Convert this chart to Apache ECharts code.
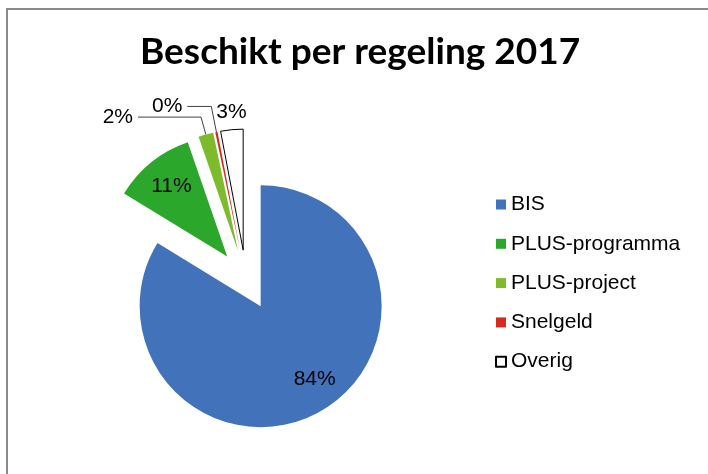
<!DOCTYPE html>
<html>
<head>
<meta charset="utf-8">
<script src="https://cdn.jsdelivr.net/npm/echarts@6/dist/echarts.min.js"></script>
<style>
  html, body { margin: 0; padding: 0; background: #fff; }
  #chart { width: 708px; height: 474px; }
</style>
</head>
<body>
<div id="chart"></div>
<script>
    // data
    var categories = ['BIS', 'PLUS-programma', 'PLUS-project', 'Snelgeld', 'Overig'];
    var values = [84, 11, 2, 0.3, 3];
    var colors = ['#4273ba', '#2ba82c', '#7dbb2d', '#d42b20', '#ffffff'];

    // label nudges (inside labels sit further out in the source chart)
    var labelNudge = [[23, 18], [-16, -21], [0, 0], [0, 0], [21, -6]];
    var lineLen = [
        null, null,
        { length: 18, length2: 63 },
        { length: 26, length2: 24 },
        { length: 12, length2: 0 }
    ];

    function buildData() {
        return categories.map(function(name, idx) {
            var item = {
                name: name,
                value: values[idx],
                selected: true,
                itemStyle: {
                    color: colors[idx],
                    borderColor: idx === 4 ? '#000' : colors[idx],
                    borderWidth: idx === 4 ? 1 : 0
                }
            };
            if (idx < 2) {
                item.label = { position: 'inside' };
            } else {
                item.label = { position: 'outside' };
                item.labelLine = {
                    show: idx !== 4,
                    length: lineLen[idx].length,
                    length2: lineLen[idx].length2
                };
            }
            return item;
        });
    }

    var chart = echarts.init(document.getElementById('chart'), null, { renderer: 'canvas' });

    var option = {
        backgroundColor: '#fff',
        animation: false,
        title: {
            text: 'Beschikt per regeling 2017',
            left: 140,
            top: 34,
            padding: 0,
            textStyle: {
                fontFamily: 'Lato',
                fontWeight: 'bold',
                fontSize: 37,
                color: '#000'
            }
        },
        legend: {
            orient: 'vertical',
            left: 490,
            top: 189,
            icon: 'rect',
            itemWidth: 10,
            itemHeight: 10,
            itemGap: 18.3,
            selectedMode: false,
            data: categories,
            textStyle: {
                fontFamily: 'Liberation Sans',
                fontSize: 21,
                lineHeight: 20,
                color: '#000'
            }
        },
        graphic: [{
            type: 'rect',
            shape: { x: 7, y: 9, width: 760, height: 520 },
            style: { fill: null, stroke: '#8a8a8a', lineWidth: 2 },
            silent: true
        }],
        series: [{
            type: 'pie',
            center: [246, 280],
            radius: 121,
            startAngle: 90,
            clockwise: true,
            selectedMode: 'multiple',
            selectedOffset: 30,
            avoidLabelOverlap: false,
            select: {
                itemStyle: {}
            },
            emphasis: { disabled: true },
            label: {
                formatter: function(p) {
                    return Math.round(p.percent) + '%';
                },
                fontFamily: 'Liberation Sans',
                fontSize: 21,
                color: '#000',
                distanceToLabelLine: 5
            },
            labelLine: {
                lineStyle: { color: '#404040', width: 1 }
            },
            labelLayout: function(params) {
                var n = labelNudge[params.dataIndex];
                return { dx: n[0], dy: n[1] };
            },
            data: buildData()
        }]
    };
    chart.setOption(option);
</script>
</body>
</html>
